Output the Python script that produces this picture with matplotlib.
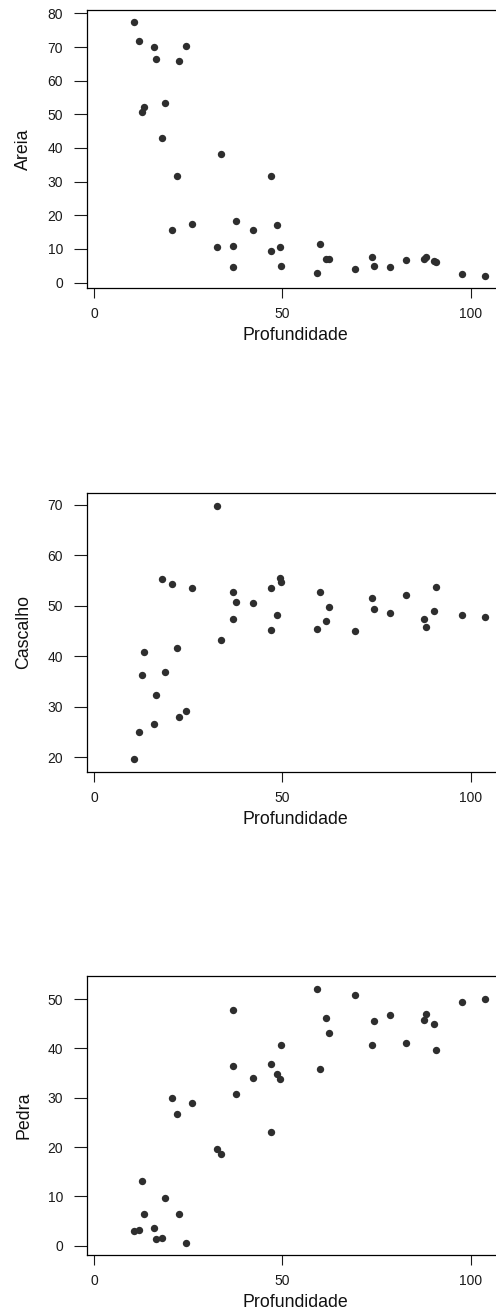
import numpy as np
import matplotlib
matplotlib.use("Agg")
import matplotlib.pyplot as plt

plt.rcParams["font.family"] = ["Liberation Sans", "DejaVu Sans"]

# profundidade (shared x) and the three fractions
profundidade = [10.5, 11.8, 12.8, 13.1, 15.8, 16.3, 18.1, 18.7, 20.6, 22.1,
                22.5, 24.5, 26.0, 32.6, 33.7, 36.9, 36.9, 37.8, 42.3, 47.0,
                47.1, 48.5, 49.4, 49.6, 59.2, 60.1, 61.7, 62.4, 69.4, 73.7,
                74.4, 78.6, 82.8, 87.7, 88.2, 90.4, 90.7, 97.7, 103.8]
areia = [77.4, 71.9, 50.6, 52.2, 70.0, 66.3, 43.0, 53.4, 15.5, 31.8,
         65.7, 70.4, 17.4, 10.6, 38.2, 10.8, 4.7, 18.4, 15.7, 9.5,
         31.8, 17.2, 10.6, 5.0, 2.8, 11.4, 6.9, 7.1, 4.1, 7.5,
         5.0, 4.5, 6.6, 6.9, 7.5, 6.4, 6.2, 2.6, 2.1]
cascalho = [19.7, 25.0, 36.2, 40.9, 26.5, 32.3, 55.3, 36.8, 54.4, 41.6,
            28.0, 29.1, 53.6, 69.7, 43.2, 52.7, 47.4, 50.7, 50.5, 53.6,
            45.1, 48.1, 55.4, 54.7, 45.3, 52.7, 46.9, 49.8, 45.0, 51.6,
            49.4, 48.5, 52.2, 47.4, 45.7, 49.0, 53.8, 48.1, 47.8]
pedra = [2.9, 3.2, 13.1, 6.5, 3.5, 1.3, 1.6, 9.7, 30.0, 26.7,
         6.4, 0.6, 28.9, 19.6, 18.6, 36.4, 47.8, 30.8, 34.0, 36.8,
         23.0, 34.8, 33.9, 40.7, 52.0, 35.9, 46.2, 43.2, 50.9, 40.7,
         45.5, 46.8, 41.2, 45.7, 46.9, 44.9, 39.7, 49.4, 50.0]

panels = [
    ("Areia", areia, np.arange(0, 81, 10), (-1.5, 81.0), 0.7809, 0.2115),
    ("Cascalho", cascalho, np.arange(20, 71, 10), (17.15, 72.26), 0.4123, 0.2120),
    ("Pedra", pedra, np.arange(0, 51, 10), (-1.89, 54.7), 0.0442, 0.2125),
]

W, H = 496, 1313
fig = plt.figure(figsize=(W / 100, H / 100), dpi=100)

left = 86.7 / W
width = 414 / W

for name, y, yticks, ylim, bottom, height in panels:
    ax = fig.add_axes([left, bottom, width, height])
    ax.plot(profundidade, y, "o", color="#2e2e2e", ms=5.3, mec="none")
    ax.set_xlim(-2.0, 108.0)
    ax.set_ylim(*ylim)
    ax.set_xticks([0, 50, 100])
    ax.set_yticks(yticks)
    for s in ax.spines.values():
        s.set_linewidth(0.9)
        s.set_color("black")
    ax.tick_params(axis="y", length=9.6, width=0.8, pad=7.5, labelsize=10,
                   colors="#1a1a1a")
    ax.tick_params(axis="x", length=7.2, width=0.8, pad=6.5, labelsize=10,
                   colors="#1a1a1a")
    ax.set_ylabel(name, fontsize=12.8, va="center", color="#111111")
    ax.yaxis.set_label_coords(-0.152, 0.5)
    ax.set_xlabel("Profundidade", fontsize=12.8, va="center", color="#111111")
    hpx = height * H
    ax.xaxis.set_label_coords(0.503, -47.5 / hpx)

fig.savefig("out.png", dpi=100)
